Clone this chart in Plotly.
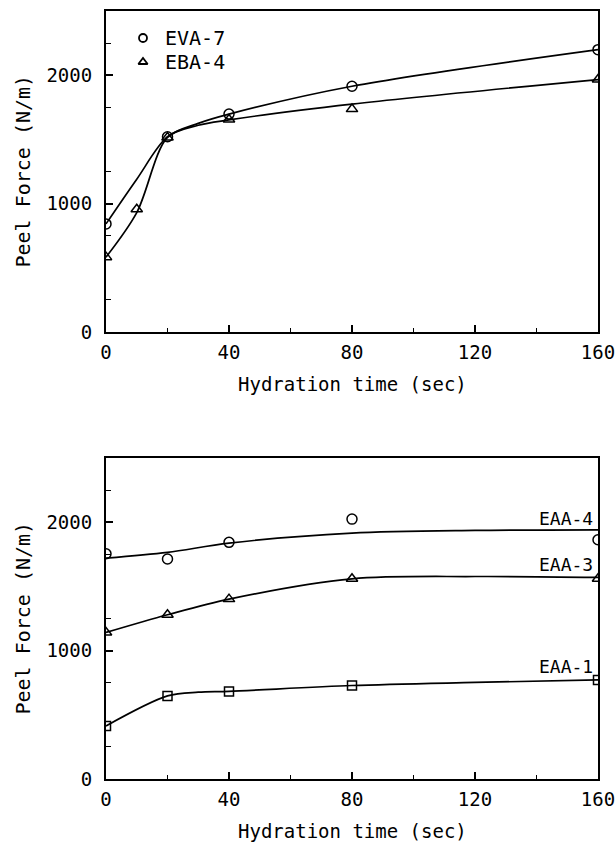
import plotly.graph_objects as go

# ---------------- data ----------------
# Top panel: measured points
eva7_x = [0, 20, 40, 80, 160]
eva7_y = [842, 1521, 1697, 1914, 2199]
eba4_x = [0, 10, 20, 40, 80, 160]
eba4_y = [583, 956, 1515, 1655, 1736, 1966]
# Top panel: drawn curves
eva7_fit_x = [0, 10, 20, 30, 40, 80, 160]
eva7_fit_y = [842, 1190, 1521, 1625, 1697, 1914, 2199]
eba4_fit_x = [0, 10, 20, 30, 40, 80, 160]
eba4_fit_y = [583, 930, 1515, 1610, 1652, 1775, 1966]

# Bottom panel: measured points
eaa4_x = [0, 20, 40, 80, 160]
eaa4_y = [1754, 1713, 1843, 2024, 1863]
eaa3_x = [0, 20, 40, 80, 160]
eaa3_y = [1141, 1279, 1401, 1559, 1559]
eaa1_x = [0, 20, 40, 80, 160]
eaa1_y = [413, 647, 681, 728, 772]
# Bottom panel: drawn curves
eaa4_fit_x = [0, 20, 40, 80, 120, 160]
eaa4_fit_y = [1720, 1765, 1837, 1915, 1936, 1941]
eaa3_fit_x = [0, 20, 40, 80, 120, 160]
eaa3_fit_y = [1141, 1279, 1401, 1559, 1577, 1570]
eaa1_fit_x = [0, 20, 30, 40, 80, 120, 160]
eaa1_fit_y = [413, 647, 676, 683, 728, 752, 772]

x_tick_step = 40
y_tick_step = 1000
x_title = "Hydration time (sec)"
y_title = "Peel Force (N/m)"

FONT = "DejaVu Sans Mono"
W, H = 616, 843

fig = go.Figure()

def curve(x, y, xa, ya):
    fig.add_trace(go.Scatter(x=x, y=y, mode="lines", xaxis=xa, yaxis=ya,
                             line=dict(color="black", width=1.7, shape="spline", smoothing=0.9),
                             showlegend=False, hoverinfo="skip"))

def marks(x, y, sym, size, xa, ya):
    fig.add_trace(go.Scatter(x=x, y=y, mode="markers", xaxis=xa, yaxis=ya,
                             marker=dict(symbol=sym, size=size, color="black",
                                         line=dict(color="black", width=1.5)),
                             showlegend=False))

curve(eva7_fit_x, eva7_fit_y, "x", "y")
curve(eba4_fit_x, eba4_fit_y, "x", "y")
marks(eva7_x, eva7_y, "circle-open", 10, "x", "y")
marks(eba4_x, eba4_y, "triangle-up-open", 10, "x", "y")

curve(eaa4_fit_x, eaa4_fit_y, "x2", "y2")
curve(eaa3_fit_x, eaa3_fit_y, "x2", "y2")
curve(eaa1_fit_x, eaa1_fit_y, "x2", "y2")
marks(eaa4_x, eaa4_y, "circle-open", 10, "x2", "y2")
marks(eaa3_x, eaa3_y, "triangle-up-open", 10, "x2", "y2")
marks(eaa1_x, eaa1_y, "square-open", 9, "x2", "y2")

xdom = [106 / W, 598 / W]
ydom_top = [1 - 332 / H, 1 - 11 / H]
ydom_bot = [1 - 779 / H, 1 - 458 / H]

def xaxis(anchor):
    return dict(domain=xdom, anchor=anchor, range=[0, 160], tickmode="linear",
                tick0=0, dtick=x_tick_step,
                ticks="inside", ticklen=7, tickwidth=1.5, tickcolor="black",
                minor=dict(ticks="inside", ticklen=4, tickwidth=1.2, tickcolor="black",
                           dtick=x_tick_step / 2),
                showline=True, linecolor="black", linewidth=2, mirror=True,
                showgrid=False, zeroline=False, automargin=False,
                ticklabelstandoff=2,
                tickfont=dict(family=FONT, size=19, color="black"))

def yaxis(anchor, dom):
    return dict(domain=dom, anchor=anchor, range=[0, 2500], tickmode="linear",
                tick0=0, dtick=y_tick_step,
                ticks="inside", ticklen=7, tickwidth=1.5, tickcolor="black",
                minor=dict(ticks="inside", ticklen=5, tickwidth=1.2, tickcolor="black",
                           tick0=y_tick_step / 4, dtick=y_tick_step / 2),
                showline=True, linecolor="black", linewidth=2, mirror=True,
                showgrid=False, zeroline=False, automargin=False,
                ticklabelstandoff=8,
                tickfont=dict(family=FONT, size=19, color="black"))

ann = []
for yd in (ydom_top, ydom_bot):
    ann.append(dict(text=x_title, xref="paper", yref="paper",
                    x=(xdom[0] + xdom[1]) / 2, y=yd[0] - 52 / H,
                    xanchor="center", yanchor="middle", showarrow=False,
                    font=dict(family=FONT, size=19, color="black")))
    ann.append(dict(text=y_title, xref="paper", yref="paper", textangle=-90,
                    x=22 / W, y=(yd[0] + yd[1]) / 2,
                    xanchor="center", yanchor="middle", showarrow=False,
                    font=dict(family=FONT, size=20, color="black")))

# legend (top panel)
ann.append(dict(text="EVA-7", xref="paper", yref="paper", x=163 / W, y=1 - 38 / H,
                xanchor="left", yanchor="middle", showarrow=False,
                font=dict(family=FONT, size=20, color="black")))
ann.append(dict(text="EBA-4", xref="paper", yref="paper", x=163 / W, y=1 - 62 / H,
                xanchor="left", yanchor="middle", showarrow=False,
                font=dict(family=FONT, size=20, color="black")))
fig.add_trace(go.Scatter(x=[143 / W], y=[1 - 38 / H], xaxis="x3", yaxis="y3", mode="markers",
                         marker=dict(symbol="circle-open", size=8, color="black",
                                     line=dict(width=1.8)), showlegend=False))
fig.add_trace(go.Scatter(x=[143 / W], y=[1 - 62 / H], xaxis="x3", yaxis="y3", mode="markers",
                         marker=dict(symbol="triangle-up-open", size=8, color="black",
                                     line=dict(width=1.8)), showlegend=False))

# series labels (bottom panel)
for txt, yv in (("EAA-4", 2025), ("EAA-3", 1674), ("EAA-1", 880)):
    ann.append(dict(text=txt, xref="x2", yref="y2", x=159, y=yv,
                    xanchor="right", yanchor="middle", showarrow=False,
                    font=dict(family=FONT, size=18, color="black")))

fig.update_layout(
    width=W, height=H, margin=dict(l=0, r=0, t=0, b=0),
    paper_bgcolor="white", plot_bgcolor="rgba(0,0,0,0)", showlegend=False,
    xaxis=xaxis("y"), yaxis=yaxis("x", ydom_top),
    xaxis2=xaxis("y2"), yaxis2=yaxis("x2", ydom_bot),
    xaxis3=dict(domain=[0, 1], range=[0, 1], visible=False, anchor="y3"),
    yaxis3=dict(domain=[0, 1], range=[0, 1], visible=False, anchor="x3"),
    annotations=ann,
)

fig.write_html("out.html")
